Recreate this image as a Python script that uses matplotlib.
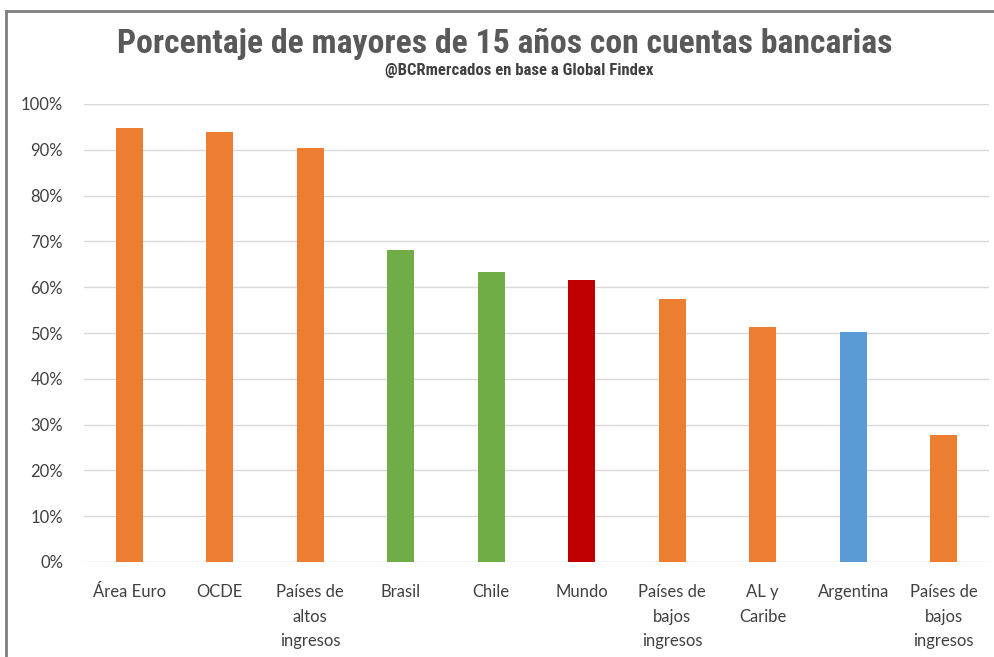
import matplotlib
matplotlib.use('Agg')
import matplotlib.pyplot as plt
from matplotlib.lines import Line2D
from matplotlib.ticker import FuncFormatter
import numpy as np

categorias = ['Área Euro', 'OCDE', 'Países de\naltos\ningresos', 'Brasil', 'Chile',
              'Mundo', 'Países de\nbajos\ningresos', 'AL y\nCaribe', 'Argentina',
              'Países de\nbajos\ningresos']
valores = [94.7, 93.8, 90.5, 68.1, 63.3, 61.5, 57.5, 51.4, 50.2, 27.8]
colores = ['#ED7D31', '#ED7D31', '#ED7D31', '#70AD47', '#70AD47',
           '#C00000', '#ED7D31', '#ED7D31', '#5B9BD5', '#ED7D31']
yticks = np.arange(0, 101, 10)

texto = '#404040'
plt.rcParams['font.family'] = ['Lato', 'DejaVu Sans']
angosta = ['DejaVu Sans Condensed', 'Roboto Condensed', 'Roboto', 'DejaVu Sans']

fig = plt.figure(figsize=(9.95, 6.57), dpi=100)
ax = fig.add_axes([84/995, 1 - 562/657, (989-84)/995, (562-104)/657])

x = np.arange(len(categorias))
ax.bar(x, valores, width=0.3, color=colores, zorder=3)

ax.set_xlim(-0.5, len(categorias) - 0.5)
ax.set_ylim(0, 100)
ax.set_yticks(yticks)
ax.yaxis.set_major_formatter(FuncFormatter(lambda v, pos: '%d%%' % v))
ax.grid(axis='y', color='#d9d9d9', linewidth=1, zorder=0)
ax.set_xticks(x)
ax.set_xticklabels(categorias, linespacing=1.65, va='top')
ax.tick_params(axis='both', length=0, labelsize=12, labelcolor=texto)
ax.tick_params(axis='y', pad=15)
ax.tick_params(axis='x', pad=16)
for s in ax.spines.values():
    s.set_visible(False)

t = fig.text(505/995, 1 - 44/657, 'Porcentaje de mayores de 15 años con cuentas bancarias',
             ha='center', va='center', fontsize=22, fontweight='bold', color='#595959',
             family=angosta)
s = fig.text(519/995, 1 - 71/657, '@BCRmercados en base a Global Findex',
             ha='center', va='center', fontsize=9, fontweight='bold', color='#404040',
             family=angosta)

# ajustar el ancho del titulo al de la imagen original
fig.canvas.draw()
r = fig.canvas.get_renderer()
w = t.get_window_extent(r).width
t.set_fontsize(22 * 775 / w)
w2 = s.get_window_extent(r).width
s.set_fontsize(9 * 268 / w2)

# marco de la imagen
fig.add_artist(Line2D([6.5/995, 6.5/995], [0, 1 - 10.5/657], transform=fig.transFigure,
                      color='#7f7f7f', linewidth=2))
fig.add_artist(Line2D([6.5/995, 1], [1 - 10.5/657, 1 - 10.5/657], transform=fig.transFigure,
                      color='#7f7f7f', linewidth=2))

fig.savefig('out.png', dpi=100)
